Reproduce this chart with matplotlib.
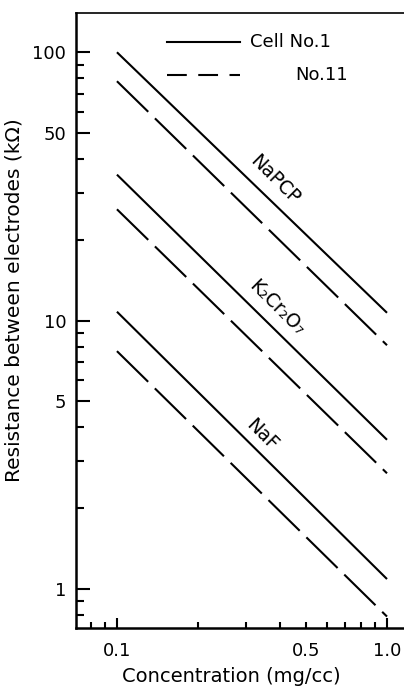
import matplotlib
matplotlib.use("Agg")
import matplotlib.pyplot as plt
from matplotlib.ticker import FixedLocator, NullFormatter, FuncFormatter

# concentration end points (mg/cc)
conc = [0.1, 1.0]

# resistance (kOhm) for cell No.1 (solid) and No.11 (dashed)
napcp_cell1 = [100, 10.7]
napcp_cell11 = [78, 8.1]
k2cr2o7_cell1 = [35, 3.6]
k2cr2o7_cell11 = [26, 2.7]
naf_cell1 = [10.8, 1.09]
naf_cell11 = [7.7, 0.79]

# salt labels and where they sit (data coords)
salt_names = ["NaPCP", "K₂Cr₂O₇", "NaF"]
salt_x = [0.385, 0.39, 0.345]
salt_y = [33.5, 11.2, 3.76]

plt.rcParams['font.family'] = ['DejaVu Sans']

fig = plt.figure(figsize=(4.04, 6.86), dpi=100)
ax = fig.add_axes([0.188, 0.0845, 0.812, 0.8965])

LW = 1.5
DASH = (21, 4.5)

for y in [napcp_cell1, k2cr2o7_cell1, naf_cell1]:
    ax.plot(conc, y, color='black', lw=LW, solid_capstyle='butt')
for y in [napcp_cell11, k2cr2o7_cell11, naf_cell11]:
    ax.plot(conc, y, color='black', lw=LW, linestyle=(0, DASH), dash_capstyle='butt')

for name, x, y in zip(salt_names, salt_x, salt_y):
    ax.text(x, y, name, rotation=-45, ha='center', va='center', fontsize=13.5,
            rotation_mode='anchor')

# legend drawn by hand
ax.plot([0.277, 0.50], [0.953, 0.953], transform=ax.transAxes, color='black', lw=LW)
ax.text(0.530, 0.953, "Cell No.1", transform=ax.transAxes, fontsize=13, va='center')
ax.plot([0.277, 0.50], [0.899, 0.899], transform=ax.transAxes, color='black', lw=LW,
        linestyle=(0, (9.5, 5.5)))
ax.text(0.668, 0.899, "No.11", transform=ax.transAxes, fontsize=13, va='center')

ax.set_xscale('log')
ax.set_yscale('log')
ax.set_xlim(0.0705, 1.156)
ax.set_ylim(0.716, 140)

# x ticks
ax.xaxis.set_major_locator(FixedLocator([0.1, 1.0]))
ax.xaxis.set_minor_locator(FixedLocator([0.08, 0.09, 0.2, 0.3, 0.4, 0.5, 0.6, 0.7, 0.8, 0.9]))
ax.xaxis.set_major_formatter(FuncFormatter(lambda v, p: "0.1" if v < 0.5 else "1.0"))
ax.xaxis.set_minor_formatter(FuncFormatter(lambda v, p: "0.5" if abs(v - 0.5) < 1e-6 else ""))

# y ticks
ax.yaxis.set_major_locator(FixedLocator([1, 5, 10, 50, 100]))
ax.yaxis.set_minor_locator(FixedLocator([0.8, 0.9, 2, 3, 4, 6, 7, 8, 9,
                                         20, 30, 40, 60, 70, 80, 90]))
ax.yaxis.set_major_formatter(FuncFormatter(lambda v, p: "%g" % v))
ax.yaxis.set_minor_formatter(NullFormatter())

ax.tick_params(axis='y', which='major', direction='in', length=10, width=1.5, labelsize=13, pad=7)
ax.tick_params(axis='y', which='minor', direction='in', length=6, width=1.5)
ax.tick_params(axis='x', which='major', direction='in', length=7, width=1.5, labelsize=13, pad=10)
ax.tick_params(axis='x', which='minor', direction='in', length=4, width=1.5, labelsize=13, pad=10)

ax.spines['right'].set_visible(False)
ax.spines['left'].set_linewidth(1.8)
ax.spines['bottom'].set_linewidth(1.8)
ax.spines['top'].set_linewidth(1.2)

ax.set_xlabel("Concentration (mg/cc)", fontsize=14)
ax.xaxis.set_label_coords(0.473, -0.064)
ax.set_ylabel("Resistance between electrodes (kΩ)", fontsize=14.5)
ax.yaxis.set_label_coords(-0.16, 0.533)

fig.savefig("out.png", dpi=100)
